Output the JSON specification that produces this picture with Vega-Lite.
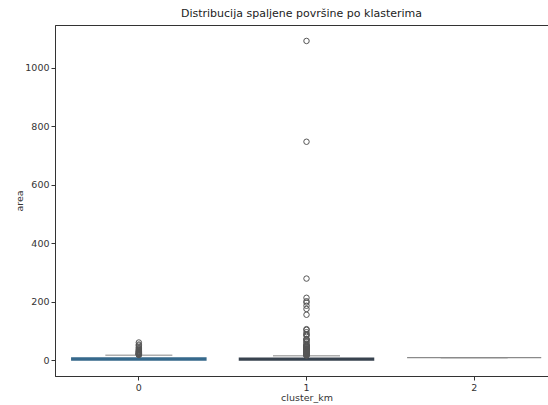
{
  "$schema": "https://vega.github.io/schema/vega-lite/v6.json",
  "autosize": {"type": "none"},
  "width": 493,
  "height": 351,
  "padding": {"left": 55, "top": 25, "right": 0, "bottom": 29},
  "background": "white",
  "title": {"text": "Distribucija spaljene površine po klasterima", "font": "DejaVu Sans", "fontSize": 11, "fontWeight": "normal", "color": "#222", "offset": 6},
  "config": {
    "view": {"stroke": "#333", "strokeWidth": 1},
    "axis": {"labelFont": "DejaVu Sans", "titleFont": "DejaVu Sans", "labelFontSize": 9.5, "titleFontSize": 9.5, "titleFontWeight": "normal", "labelColor": "#333", "titleColor": "#333", "domainColor": "#333", "tickColor": "#333", "tickSize": 4, "grid": false, "labelPadding": 2}
  },
  "datasets": {
    "boxes": [
      {"cluster_km": 0, "lower": 0, "q1": 0, "median": 0.6, "q3": 6.8, "upper": 16.5},
      {"cluster_km": 1, "lower": 0, "q1": 0, "median": 0.0, "q3": 6.0, "upper": 14.6},
      {"cluster_km": 2, "lower": 8.2, "q1": 8.2, "median": 8.2, "q3": 8.2, "upper": 8.2}
    ],
    "outliers": [
      {"cluster_km": 0, "area": 17.5}, {"cluster_km": 0, "area": 18.4}, {"cluster_km": 0, "area": 19.3},
      {"cluster_km": 0, "area": 20.2}, {"cluster_km": 0, "area": 21.3}, {"cluster_km": 0, "area": 22.1},
      {"cluster_km": 0, "area": 23.0}, {"cluster_km": 0, "area": 24.4}, {"cluster_km": 0, "area": 25.6},
      {"cluster_km": 0, "area": 27.3}, {"cluster_km": 0, "area": 28.7}, {"cluster_km": 0, "area": 30.2},
      {"cluster_km": 0, "area": 32.1}, {"cluster_km": 0, "area": 34.4}, {"cluster_km": 0, "area": 36.9},
      {"cluster_km": 0, "area": 40.5}, {"cluster_km": 0, "area": 44.0}, {"cluster_km": 0, "area": 49.4},
      {"cluster_km": 0, "area": 53.0}, {"cluster_km": 0, "area": 60.0},
      {"cluster_km": 1, "area": 1090.84}, {"cluster_km": 1, "area": 746.28}, {"cluster_km": 1, "area": 278.53},
      {"cluster_km": 1, "area": 212.88}, {"cluster_km": 1, "area": 200.94}, {"cluster_km": 1, "area": 196.48},
      {"cluster_km": 1, "area": 185.76}, {"cluster_km": 1, "area": 174.63}, {"cluster_km": 1, "area": 154.88},
      {"cluster_km": 1, "area": 105.66}, {"cluster_km": 1, "area": 103.39}, {"cluster_km": 1, "area": 95.18},
      {"cluster_km": 1, "area": 88.49}, {"cluster_km": 1, "area": 86.45}, {"cluster_km": 1, "area": 82.75},
      {"cluster_km": 1, "area": 71.3}, {"cluster_km": 1, "area": 70.76}, {"cluster_km": 1, "area": 70.32},
      {"cluster_km": 1, "area": 64.1}, {"cluster_km": 1, "area": 61.13}, {"cluster_km": 1, "area": 56.04},
      {"cluster_km": 1, "area": 51.78}, {"cluster_km": 1, "area": 49.59}, {"cluster_km": 1, "area": 49.37},
      {"cluster_km": 1, "area": 48.55}, {"cluster_km": 1, "area": 46.7}, {"cluster_km": 1, "area": 43.32},
      {"cluster_km": 1, "area": 42.87}, {"cluster_km": 1, "area": 39.35}, {"cluster_km": 1, "area": 38.48},
      {"cluster_km": 1, "area": 37.71}, {"cluster_km": 1, "area": 37.02}, {"cluster_km": 1, "area": 35.88},
      {"cluster_km": 1, "area": 34.36}, {"cluster_km": 1, "area": 31.86}, {"cluster_km": 1, "area": 31.72},
      {"cluster_km": 1, "area": 29.48}, {"cluster_km": 1, "area": 28.74}, {"cluster_km": 1, "area": 28.66},
      {"cluster_km": 1, "area": 27.35}, {"cluster_km": 1, "area": 26.43}, {"cluster_km": 1, "area": 26.13},
      {"cluster_km": 1, "area": 24.77}, {"cluster_km": 1, "area": 24.59}, {"cluster_km": 1, "area": 24.23},
      {"cluster_km": 1, "area": 23.41}, {"cluster_km": 1, "area": 22.03}, {"cluster_km": 1, "area": 20.03},
      {"cluster_km": 1, "area": 19.23}, {"cluster_km": 1, "area": 18.3}, {"cluster_km": 1, "area": 17.85},
      {"cluster_km": 1, "area": 16.4}, {"cluster_km": 1, "area": 16.33}, {"cluster_km": 1, "area": 15.64}
    ]
  },
  "layer": [
    {
      "data": {"name": "boxes"},
      "mark": {"type": "rule", "color": "#8c8c8c", "strokeWidth": 1.5},
      "encoding": {
        "x": {"field": "cluster_km", "type": "nominal", "scale": {"range": [0, 503], "paddingInner": 0.2, "paddingOuter": 0.1}, "axis": {"title": "cluster_km", "labelAngle": 0, "titlePadding": 1}},
        "y": {"field": "q3", "type": "quantitative", "scale": {"domain": [-54.5, 1145.4], "nice": false, "zero": false}, "axis": {"title": "area", "values": [0, 200, 400, 600, 800, 1000], "format": "d", "titlePadding": 0}},
        "y2": {"field": "upper"}
      }
    },
    {
      "data": {"name": "boxes"},
      "mark": {"type": "tick", "color": "#8c8c8c", "thickness": 1.5, "size": 67},
      "encoding": {
        "x": {"field": "cluster_km", "type": "nominal"},
        "y": {"field": "upper", "type": "quantitative"}
      }
    },
    {
      "data": {"name": "boxes"},
      "mark": {"type": "bar", "strokeWidth": 1.4},
      "encoding": {
        "x": {"field": "cluster_km", "type": "nominal"},
        "y": {"field": "q1", "type": "quantitative"},
        "y2": {"field": "q3"},
        "color": {"field": "cluster_km", "type": "nominal", "scale": {"range": ["#3b6e91", "#3a4653", "#9a9a9a"]}, "legend": null},
        "stroke": {"field": "cluster_km", "type": "nominal", "scale": {"range": ["#36688a", "#38434f", "#8a8a8a"]}, "legend": null}
      }
    },
    {
      "data": {"name": "outliers"},
      "mark": {"type": "point", "filled": false, "stroke": "#555", "strokeWidth": 1, "size": 30, "opacity": 1},
      "encoding": {
        "x": {"field": "cluster_km", "type": "nominal"},
        "y": {"field": "area", "type": "quantitative"}
      }
    }
  ]
}
